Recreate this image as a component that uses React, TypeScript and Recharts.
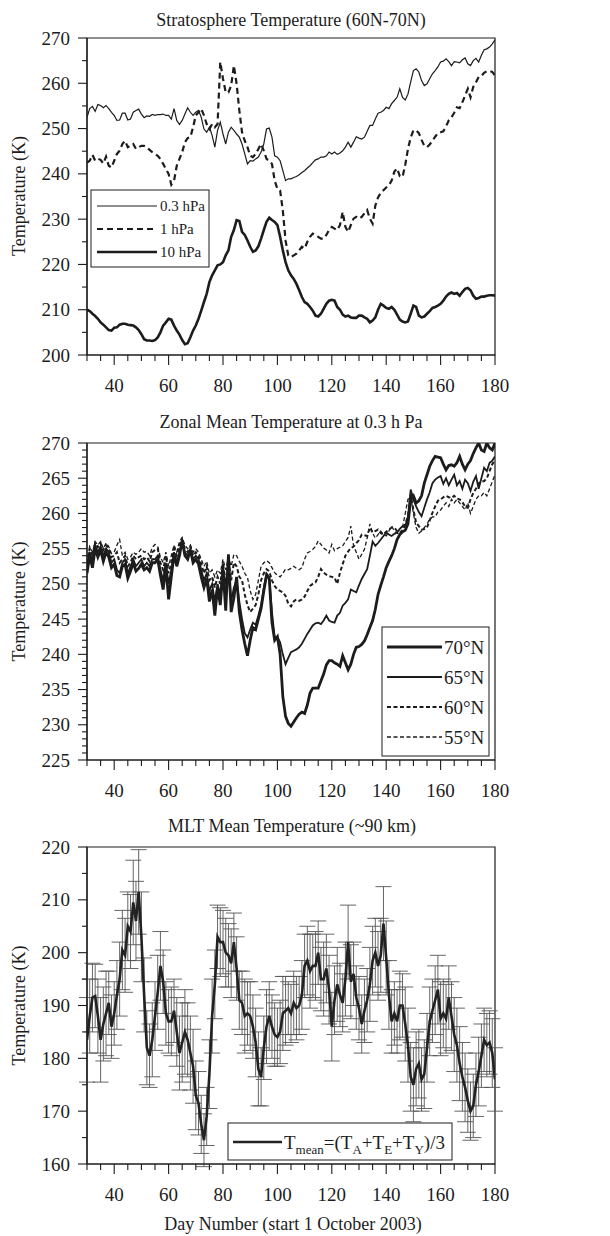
import React from "react";
import { LineChart, Line, XAxis, YAxis, ReferenceArea, ErrorBar } from "recharts";

const FONT = "'Liberation Serif', 'Times New Roman', serif";
const INK = "#1c1c1c";

// day numbers start at 30, one value per day up to 180
const FIRST_DAY = 30;

// stratosphere 60N-70N
const T_03HPA = [
  252.5, 254.4, 254.9, 253.8, 255.3, 255.1, 254.6, 255.1, 254.4, 253.6,
  252.9, 251.8, 251.9, 253.4, 253.4, 251.9, 252.1, 253.6, 254.0, 254.3,
  253.2, 252.4, 252.8, 252.7, 253.1, 252.9, 253.1, 253.1, 253.2, 252.9,
  252.9, 252.1, 254.4, 251.8, 250.9, 251.8, 253.2, 254.6, 253.6, 252.9,
  253.6, 254.0, 252.5, 249.9, 249.2, 250.3, 248.5, 245.9, 249.6, 251.4,
  248.8, 246.6, 249.2, 250.3, 249.6, 248.8, 248.1, 246.6, 244.4, 242.2,
  242.9, 242.8, 243.3, 243.7, 244.8, 246.6, 249.9, 250.1, 248.1, 244.0,
  243.7, 242.9, 240.7, 238.5, 238.9, 238.9, 239.2, 239.4, 239.8, 240.3,
  240.7, 241.3, 241.8, 242.5, 243.1, 243.3, 243.7, 243.7, 244.0, 244.8,
  244.4, 244.8, 244.3, 244.6, 245.1, 245.9, 247.0, 245.9, 247.0, 248.2,
  247.9, 247.7, 248.1, 249.4, 250.7, 250.7, 252.1, 253.4, 253.6, 254.0,
  254.7, 254.4, 255.5, 256.2, 256.9, 258.8, 256.9, 256.3, 257.6, 260.3,
  262.8, 263.2, 262.5, 260.6, 259.5, 259.9, 261.0, 262.1, 262.8, 263.6,
  264.7, 264.9, 265.4, 264.8, 263.9, 264.8, 264.7, 264.5, 265.2, 265.6,
  264.3, 263.9, 265.0, 265.5, 264.7, 266.2, 267.4, 267.6, 268.0, 268.7, 269.6,
];
const T_1HPA = [
  242.5, 242.9, 244.2, 242.9, 243.3, 243.1, 242.3, 243.8, 241.8, 241.4,
  242.9, 244.4, 245.1, 246.6, 247.3, 245.9, 246.2, 246.6, 245.5, 245.9,
  246.2, 246.2, 245.9, 245.3, 244.8, 244.4, 244.0, 243.3, 242.2, 241.1,
  240.0, 237.6, 238.5, 241.8, 243.3, 244.8, 247.0, 247.9, 248.1, 250.3,
  252.9, 253.6, 254.4, 252.9, 251.0, 249.9, 251.0, 250.3, 251.0, 264.7,
  261.0, 258.0, 258.0, 259.5, 263.9, 259.9, 254.0, 249.2, 247.3, 245.9,
  244.0, 243.7, 244.4, 245.5, 246.6, 245.1, 243.3, 242.9, 242.2, 238.5,
  236.7, 236.3, 231.9, 225.3, 222.0, 221.6, 222.0, 222.4, 223.1, 223.9,
  223.5, 225.0, 226.1, 226.8, 226.5, 226.1, 225.7, 225.7, 226.5, 227.6,
  228.3, 227.9, 227.6, 228.7, 231.6, 228.3, 227.2, 228.7, 230.1, 230.5,
  230.1, 230.5, 231.3, 232.0, 230.1, 229.0, 233.0, 234.8, 235.8, 236.4,
  237.0, 237.5, 238.5, 240.5, 241.2, 239.5, 239.3, 242.0, 245.5, 248.0,
  249.6, 249.6, 249.0, 247.5, 246.2, 245.9, 246.5, 247.3, 248.2, 249.0,
  249.2, 249.4, 250.5, 251.8, 252.5, 253.5, 254.7, 254.5, 255.8, 257.3,
  258.8, 256.9, 259.2, 260.2, 261.4, 261.6, 262.3, 262.7, 262.7, 262.5, 261.7,
];
const T_10HPA = [
  210.0, 209.7, 209.1, 208.6, 208.0, 207.2, 206.7, 206.1, 205.5, 205.4,
  206.0, 206.1, 206.7, 206.9, 206.9, 206.7, 206.6, 206.5, 206.1, 205.5,
  204.6, 203.5, 203.2, 203.2, 203.1, 203.3, 203.9, 205.0, 206.5, 207.2,
  208.0, 207.8, 206.5, 205.4, 204.5, 203.3, 202.4, 202.6, 203.9, 205.4,
  206.5, 208.0, 209.8, 211.7, 213.5, 216.1, 217.6, 218.7, 219.8, 220.0,
  220.5, 222.0, 223.1, 226.1, 227.6, 229.8, 229.6, 227.2, 226.5, 225.3,
  223.9, 222.8, 223.1, 224.0, 225.7, 227.6, 229.4, 230.3, 229.8, 229.4,
  228.7, 226.1, 223.1, 220.5, 218.7, 217.6, 216.8, 215.7, 214.3, 212.8,
  211.7, 211.3, 210.6, 209.8, 208.7, 208.5, 209.1, 210.2, 211.3, 212.0,
  212.2, 212.0, 210.6, 210.0, 208.9, 208.5, 208.7, 208.3, 208.2, 208.2,
  208.7, 208.7, 208.3, 208.0, 207.2, 207.6, 208.3, 210.0, 211.3, 210.9,
  210.4, 210.2, 210.6, 210.0, 208.9, 207.8, 207.4, 207.2, 207.4, 209.1,
  210.9, 210.6, 208.7, 208.3, 208.5, 209.1, 209.7, 210.4, 210.6, 210.9,
  211.3, 212.0, 212.9, 213.5, 213.8, 213.5, 213.7, 213.1, 213.9, 214.6,
  214.8, 214.3, 213.1, 212.4, 212.6, 212.9, 212.9, 213.1, 213.2, 213.2, 213.1,
];

// zonal mean at 0.3 hPa
const T_70N = [
  251.5, 254.0, 252.3, 255.0, 253.8, 254.8, 253.2, 254.5, 253.8, 252.3,
  252.8, 251.2, 251.0, 252.5, 252.8, 250.8, 251.8, 253.0, 251.8, 252.2,
  252.8, 252.0, 252.3, 251.8, 253.0, 253.0, 253.5, 251.2, 249.2, 252.5,
  247.8, 251.0, 254.2, 252.5, 254.0, 256.2, 254.0, 253.5, 254.8, 253.0,
  253.5, 252.8, 251.0, 249.5, 250.8, 247.5, 249.2, 245.5, 249.5, 247.0,
  252.0, 246.2, 254.2, 246.0, 248.0, 251.0, 246.0, 243.5, 241.5, 239.8,
  242.0, 243.8, 243.5, 245.0, 246.5, 249.0, 251.2, 250.8, 244.5, 242.0,
  242.5, 240.0, 234.0, 231.2, 230.2, 229.8, 230.4, 231.0, 231.5, 231.8,
  231.6, 232.8, 234.5, 235.2, 235.2, 235.2, 236.2, 237.2, 238.5, 239.1,
  239.1, 238.8, 238.6, 238.3, 239.8, 238.8, 237.8, 238.6, 240.0, 241.0,
  241.1, 241.4, 241.9, 242.8, 243.8, 244.8, 246.4, 248.5, 249.8, 251.0,
  252.3, 253.2, 254.0, 255.0, 256.3, 257.0, 257.4, 257.6, 258.5, 262.0,
  262.5, 261.5, 261.8, 262.5, 264.3, 265.5, 266.7, 267.5, 268.1, 268.0,
  267.9, 267.0, 266.2, 266.8, 266.9, 266.7, 267.2, 268.1, 267.0, 266.2,
  267.0, 267.5, 268.5, 269.3, 270.0, 269.0, 268.8, 270.0, 269.3, 269.0, 270.0,
];
const T_65N = [
  252.0, 254.5, 253.0, 255.5, 254.5, 255.3, 254.0, 255.0, 254.5, 253.0,
  253.5, 252.0, 251.5, 253.0, 253.5, 251.5, 252.5, 253.5, 252.5, 253.0,
  253.5, 252.5, 253.0, 252.5, 253.5, 253.5, 254.0, 252.0, 250.5, 253.0,
  250.0, 252.0, 254.5, 253.0, 254.5, 256.0, 254.5, 254.0, 255.0, 253.5,
  254.0, 253.5, 252.0, 250.5, 251.5, 249.0, 250.0, 247.5, 250.0, 248.5,
  252.5, 248.0, 253.0, 247.5, 249.5, 250.5, 247.5, 245.0, 243.0, 242.4,
  243.5, 244.5, 244.2, 245.5, 247.0, 249.5, 251.5, 251.0, 246.0, 242.4,
  242.5, 241.7, 240.0, 238.6, 239.5, 240.3, 240.5, 240.7, 241.0, 241.5,
  242.2, 242.9, 243.5, 244.1, 244.4, 244.5, 244.3, 244.8, 245.5, 244.8,
  244.6, 244.5, 245.5, 245.9, 246.9, 247.3, 247.8, 249.2, 249.0, 248.8,
  249.8, 250.7, 251.4, 252.1, 254.0, 256.0, 255.4, 255.8, 256.3, 256.8,
  257.3, 257.0, 256.8, 257.1, 257.3, 257.8, 258.2, 258.2, 259.5, 263.4,
  262.0, 261.0, 260.2, 259.6, 260.8, 262.0, 263.0, 264.3, 264.8, 265.1,
  265.3, 264.2, 265.0, 264.0, 264.8, 265.5, 264.0, 264.6, 263.5, 264.8,
  264.3, 263.2, 264.5, 265.3, 263.5, 265.0, 266.5, 266.0, 267.2, 267.5, 268.1,
];
const T_60N = [
  252.8, 255.0, 254.0, 255.8, 255.2, 255.8, 254.8, 255.5, 255.0, 253.8,
  254.0, 254.5, 253.0, 253.5, 254.0, 252.5, 253.0, 254.0, 253.5, 253.8,
  254.0, 253.5, 253.8, 253.2, 254.5, 254.8, 255.0, 253.0, 252.0, 254.0,
  251.5, 253.0, 255.0, 254.0, 255.5, 256.3, 255.0, 254.5, 255.3, 254.0,
  254.5, 254.0, 252.8, 251.5, 252.5, 250.5, 251.0, 249.5, 251.0, 250.0,
  253.0, 250.0, 253.5, 250.5, 253.0, 252.5, 251.0, 250.5, 248.5, 247.0,
  246.0, 246.5, 247.0, 248.5, 250.5, 251.5, 252.1, 251.8, 250.5, 249.7,
  249.2, 249.0, 248.8, 248.3, 247.2, 246.8, 247.5, 247.8, 247.6, 247.8,
  248.2, 249.0, 249.7, 250.0, 250.2, 251.0, 252.1, 251.6, 251.3, 251.1,
  251.0, 250.9, 250.0, 251.6, 252.8, 254.0, 254.6, 255.1, 255.3, 255.8,
  256.2, 257.0, 256.9, 256.8, 258.0, 257.3, 257.5, 257.7, 257.2, 257.0,
  257.4, 257.7, 258.0, 258.0, 257.5, 257.3, 257.5, 258.5, 259.6, 262.7,
  260.5, 258.7, 258.2, 257.7, 257.8, 258.0, 259.0, 260.1, 261.0, 261.8,
  262.0, 262.3, 262.5, 262.3, 262.2, 262.5, 262.1, 262.0, 261.6, 261.0,
  260.8, 262.0, 262.9, 263.5, 264.3, 264.5, 264.6, 265.0, 266.0, 267.0, 267.6,
];
const T_55N = [
  253.0, 255.3, 254.5, 256.0, 255.5, 256.0, 255.0, 255.8, 255.3, 254.3,
  254.5, 255.5, 256.3, 254.0, 254.5, 253.5, 253.8, 254.5, 254.2, 254.5,
  255.0, 254.5, 254.6, 254.0, 255.2, 255.6, 255.3, 253.8, 253.0, 254.5,
  252.5, 254.0, 255.5, 254.5, 256.0, 256.6, 255.5, 255.0, 255.5, 254.5,
  255.0, 254.5, 253.5, 252.5, 253.2, 251.5, 252.0, 251.0, 252.0, 251.5,
  253.5, 252.0, 253.8, 252.5, 254.2, 254.0, 253.2, 252.5, 251.5, 250.9,
  249.0, 247.8, 248.5, 250.5, 252.5, 253.0, 253.3, 253.0, 252.3, 251.6,
  251.2, 251.0, 251.5, 252.1, 252.0, 252.2, 252.5, 252.2, 252.0, 252.3,
  253.5, 254.4, 254.6, 254.9, 255.3, 256.1, 255.6, 255.1, 254.8, 254.4,
  255.6, 254.7, 255.0, 255.2, 255.4, 256.0, 256.6, 258.2, 255.4, 254.5,
  253.5, 254.2, 254.9, 256.5, 258.5, 257.2, 256.5, 257.0, 257.5, 257.0,
  256.8, 257.5, 258.2, 257.5, 257.2, 257.0, 258.0, 260.0, 262.0, 262.5,
  260.0, 258.0, 257.2, 257.5, 258.0, 258.5, 259.2, 259.5, 259.5, 260.2,
  260.5, 261.0, 261.5, 261.0, 262.0, 261.5, 262.0, 261.5, 261.0, 260.5,
  261.5, 260.0, 261.0, 262.0, 262.5, 262.5, 263.0, 262.5, 263.5, 264.5, 265.5,
];

// MLT mean temperature and its daily spread
const T_MEAN = [
  183.5, 188.0, 191.5, 191.8, 188.0, 183.5, 186.5, 188.5, 190.5, 186.0,
  188.5, 192.0, 195.0, 200.5, 199.5, 205.0, 204.0, 209.5, 206.0, 211.5,
  203.0, 192.0, 182.0, 180.5, 183.5, 188.0, 192.5, 197.5, 194.5, 188.5,
  187.0, 187.0, 189.0, 185.0, 181.0, 183.0, 185.0, 183.5, 181.0, 178.5,
  173.0, 171.5, 167.5, 164.5, 169.0, 177.0, 188.0, 194.0, 203.0, 202.0,
  202.0, 200.0, 199.5, 198.0, 202.0, 197.0, 191.0, 190.5, 188.0, 188.5,
  188.0, 186.0, 183.0, 178.0, 176.5, 182.0, 186.0, 188.0, 186.0, 184.5,
  184.0, 185.0, 188.5, 189.0, 189.5, 188.5, 190.5, 189.5, 190.0, 192.0,
  197.5, 198.5, 196.5, 197.5, 197.5, 200.0, 195.0, 195.0, 197.0, 193.0,
  186.0, 191.0, 194.0, 192.0, 190.5, 195.0, 202.0, 194.5, 196.0, 191.5,
  189.5, 186.5, 189.0, 191.0, 194.0, 198.5, 200.0, 197.5, 199.5, 205.5,
  199.0, 192.0, 187.0, 188.5, 187.0, 190.0, 190.0, 186.5, 182.5, 176.5,
  175.0, 178.0, 179.0, 176.0, 177.0, 182.0, 187.0, 189.0, 191.0, 193.0,
  187.5, 188.5, 187.5, 191.5, 188.0, 184.5, 182.5, 179.0, 176.5, 174.5,
  172.0, 170.0, 171.0, 175.0, 177.5, 180.5, 183.5, 182.5, 183.0, 181.0, 176.0,
];
const T_ERR = [
  8, 7, 6.5, 6, 7, 8, 7, 8, 6, 6,
  6, 6.5, 7, 7.5, 7, 6.5, 7, 8, 7.5, 8,
  8.5, 7, 7, 6, 7, 6.5, 7, 6.5, 6, 6,
  6, 6.5, 6, 6.5, 7, 7.5, 8, 7, 7, 7,
  6.5, 6, 5.5, 5, 5.5, 6.5, 7, 6.5, 6, 6.5,
  6, 6.5, 6, 6.5, 5.5, 6, 5.5, 6, 7, 6,
  6.5, 6, 6.5, 7, 5.5, 6, 7, 6.5, 6, 6,
  5.5, 6, 7, 6.5, 5, 5.5, 6, 6, 5.5, 6.5,
  6, 6.5, 7, 6, 6.5, 6, 6, 7, 6.5, 6.5,
  6.5, 6.5, 7, 6, 5.5, 7, 7, 7, 6, 6,
  6, 5.5, 6, 6, 7, 6.5, 6.5, 6.5, 7, 7,
  7, 6.5, 6, 6, 6, 6.5, 6, 7, 7, 6.5,
  7, 7, 6.5, 6, 6.5, 6.5, 6.5, 6, 6.5, 6.5,
  7, 6.5, 6.5, 6, 6.5, 7, 7, 7, 6.5, 6.5,
  6, 5.5, 6, 6, 6.5, 6, 6, 6, 6, 6.5, 6,
];

const X_TICKS = [30, 35, 40, 45, 50, 55, 60, 65, 70, 75, 80, 85, 90, 95, 100, 105, 110, 115, 120, 125, 130, 135, 140, 145, 150, 155, 160, 165, 170, 175, 180];
const X_LABELS = [40, 60, 80, 100, 120, 140, 160, 180];

const STRAT_TICKS = [200, 205, 210, 215, 220, 225, 230, 235, 240, 245, 250, 255, 260, 265, 270];
const STRAT_LABELS = [200, 210, 220, 230, 240, 250, 260, 270];
const ZONAL_TICKS = [
  225, 226, 227, 228, 229, 230, 231, 232, 233, 234, 235, 236, 237, 238, 239, 240,
  241, 242, 243, 244, 245, 246, 247, 248, 249, 250, 251, 252, 253, 254, 255, 256,
  257, 258, 259, 260, 261, 262, 263, 264, 265, 266, 267, 268, 269, 270,
];
const ZONAL_LABELS = [225, 230, 235, 240, 245, 250, 255, 260, 265, 270];
const MLT_TICKS = [160, 165, 170, 175, 180, 185, 190, 195, 200, 205, 210, 215, 220];
const MLT_LABELS = [160, 170, 180, 190, 200, 210, 220];

const toRows = (cols: Record<string, number[]>) => {
  const keys = Object.keys(cols);
  return cols[keys[0]].map((_, i) => {
    const row: any = { day: FIRST_DAY + i };
    keys.forEach((k) => (row[k] = cols[k][i]));
    return row;
  });
};

const stratData = toRows({ p03: T_03HPA, p1: T_1HPA, p10: T_10HPA });
const zonalData = toRows({ n70: T_70N, n65: T_65N, n60: T_60N, n55: T_55N });
const mltData = toRows({ mean: T_MEAN, err: T_ERR });

const XTick = (props: any) => {
  const { x, y, payload } = props;
  const major = X_LABELS.includes(payload.value);
  return (
    <g>
      <line x1={x} x2={x} y1={y} y2={y + (major ? 10 : 6)} stroke={INK} strokeWidth={1.1} />
      {major && (
        <text x={x} y={y + 37} textAnchor="middle" fontSize={19} fontFamily={FONT} fill={INK}>
          {payload.value}
        </text>
      )}
    </g>
  );
};

const yTick = (labels: number[]) => (props: any) => {
  const { x, y, payload } = props;
  const major = labels.includes(payload.value);
  return (
    <g>
      <line x1={x} x2={x - (major ? 9 : 5)} y1={y} y2={y} stroke={INK} strokeWidth={1.1} />
      {major && (
        <text x={x - 17} y={y + 6.5} textAnchor="end" fontSize={19} fontFamily={FONT} fill={INK}>
          {payload.value}
        </text>
      )}
    </g>
  );
};

const CHART_W = 610;
const CHART_H = 407;

function Panel({ top, data, domain, ticks, labels, children }: any) {
  return (
    <div style={{ position: "absolute", left: 0, top }}>
      <LineChart
        width={CHART_W}
        height={CHART_H}
        data={data}
        margin={{ top: 30, right: 115, bottom: 20, left: 47 }}
      >
        <XAxis
          dataKey="day"
          type="number"
          domain={[30, 180]}
          ticks={X_TICKS}
          interval={0}
          height={40}
          tickSize={0}
          tickMargin={0}
          tickLine={false}
          axisLine={{ stroke: INK, strokeWidth: 1.2 }}
          tick={<XTick />}
          allowDataOverflow
        />
        <YAxis
          type="number"
          domain={domain}
          ticks={ticks}
          interval={0}
          width={40}
          tickSize={0}
          tickMargin={0}
          tickLine={false}
          axisLine={{ stroke: INK, strokeWidth: 1.2 }}
          tick={yTick(labels)}
          allowDataOverflow
        />
        <ReferenceArea
          x1={30}
          x2={180}
          y1={domain[0]}
          y2={domain[1]}
          fill="none"
          stroke={INK}
          strokeWidth={1.2}
          ifOverflow="visible"
        />
        {children}
      </LineChart>
    </div>
  );
}

const txt = { fontFamily: FONT, fill: INK } as const;

export default function App() {
  return (
    <div
      style={{
        position: "absolute",
        left: 0,
        top: 0,
        width: 610,
        height: 1236,
        background: "#fff",
        fontFamily: FONT,
      }}
    >
      <Panel top={8} data={stratData} domain={[200, 270]} ticks={STRAT_TICKS} labels={STRAT_LABELS}>
        <Line type="linear" dataKey="p03" stroke={INK} strokeWidth={1.2} dot={false} isAnimationActive={false} />
        <Line type="linear" dataKey="p1" stroke={INK} strokeWidth={2.2} strokeDasharray="6 4" dot={false} isAnimationActive={false} />
        <Line type="linear" dataKey="p10" stroke={INK} strokeWidth={2.6} dot={false} isAnimationActive={false} />
      </Panel>

      <Panel top={413} data={zonalData} domain={[225, 270]} ticks={ZONAL_TICKS} labels={ZONAL_LABELS}>
        <Line type="linear" dataKey="n55" stroke={INK} strokeWidth={1.3} strokeDasharray="4 2.5" dot={false} isAnimationActive={false} />
        <Line type="linear" dataKey="n60" stroke={INK} strokeWidth={2} strokeDasharray="4 2.5" dot={false} isAnimationActive={false} />
        <Line type="linear" dataKey="n65" stroke={INK} strokeWidth={1.8} dot={false} isAnimationActive={false} />
        <Line type="linear" dataKey="n70" stroke={INK} strokeWidth={2.8} dot={false} isAnimationActive={false} />
      </Panel>

      <Panel top={817} data={mltData} domain={[160, 220]} ticks={MLT_TICKS} labels={MLT_LABELS}>
        <Line type="linear" dataKey="mean" stroke="#222" strokeWidth={2.6} dot={false} isAnimationActive={false}>
          <ErrorBar dataKey="err" direction="y" width={8} stroke="#555" strokeWidth={0.9} />
        </Line>
      </Panel>

      {/* titles, axis names and legends */}
      <svg
        width={610}
        height={1236}
        style={{ position: "absolute", left: 0, top: 0, pointerEvents: "none" }}
      >
        <text x={291} y={26} textAnchor="middle" fontSize={18} {...txt}>
          Stratosphere Temperature (60N-70N)
        </text>
        <text x={291} y={428} textAnchor="middle" fontSize={18} {...txt}>
          Zonal Mean Temperature at 0.3 h Pa
        </text>
        <text x={292} y={832} textAnchor="middle" fontSize={18} {...txt}>
          MLT Mean Temperature (~90 km)
        </text>

        {[196, 601.5, 1005.5].map((cy) => (
          <text
            key={cy}
            x={25}
            y={cy}
            transform={`rotate(-90 25 ${cy})`}
            textAnchor="middle"
            fontSize={18}
            {...txt}
          >
            Temperature (K)
          </text>
        ))}

        <text x={293} y={1230} textAnchor="middle" fontSize={18} {...txt}>
          Day Number (start 1 October 2003)
        </text>

        {/* stratosphere legend */}
        <rect x={91} y={190} width={118} height={77} fill="#fff" stroke={INK} strokeWidth={1} />
        <line x1={97} x2={157} y1={206} y2={206} stroke={INK} strokeWidth={1.2} />
        <line x1={97} x2={157} y1={229} y2={229} stroke={INK} strokeWidth={2.2} strokeDasharray="6 4" />
        <line x1={97} x2={157} y1={252} y2={252} stroke={INK} strokeWidth={2.6} />
        <text x={160} y={211} fontSize={15} {...txt}>0.3 hPa</text>
        <text x={160} y={234} fontSize={15} {...txt}>1 hPa</text>
        <text x={160} y={257} fontSize={15} {...txt}>10 hPa</text>

        {/* zonal legend */}
        <rect x={382} y={627} width={107} height={129} fill="#fff" stroke={INK} strokeWidth={1} />
        <line x1={387} x2={442} y1={647} y2={647} stroke={INK} strokeWidth={2.8} />
        <line x1={387} x2={442} y1={677} y2={677} stroke={INK} strokeWidth={1.8} />
        <line x1={387} x2={442} y1={707} y2={707} stroke={INK} strokeWidth={2} strokeDasharray="4 2.5" />
        <line x1={387} x2={442} y1={737} y2={737} stroke={INK} strokeWidth={1.3} strokeDasharray="4 2.5" />
        <text x={444} y={653.5} fontSize={19} {...txt}>70°N</text>
        <text x={444} y={683.5} fontSize={19} {...txt}>65°N</text>
        <text x={444} y={713.5} fontSize={19} {...txt}>60°N</text>
        <text x={444} y={743.5} fontSize={19} {...txt}>55°N</text>

        {/* MLT legend */}
        <rect x={228} y={1123} width={224} height={37} fill="#fff" stroke={INK} strokeWidth={1} />
        <line x1={233} x2={282} y1={1142} y2={1142} stroke="#222" strokeWidth={2.6} />
        <text x={284} y={1149} fontSize={19} {...txt}>
          T<tspan fontSize={13} dy={5}>mean</tspan>
          <tspan dy={-5}>=(T</tspan>
          <tspan fontSize={13} dy={5}>A</tspan>
          <tspan dy={-5}>+T</tspan>
          <tspan fontSize={13} dy={5}>E</tspan>
          <tspan dy={-5}>+T</tspan>
          <tspan fontSize={13} dy={5}>Y</tspan>
          <tspan dy={-5}>)/3</tspan>
        </text>
      </svg>
    </div>
  );
}
